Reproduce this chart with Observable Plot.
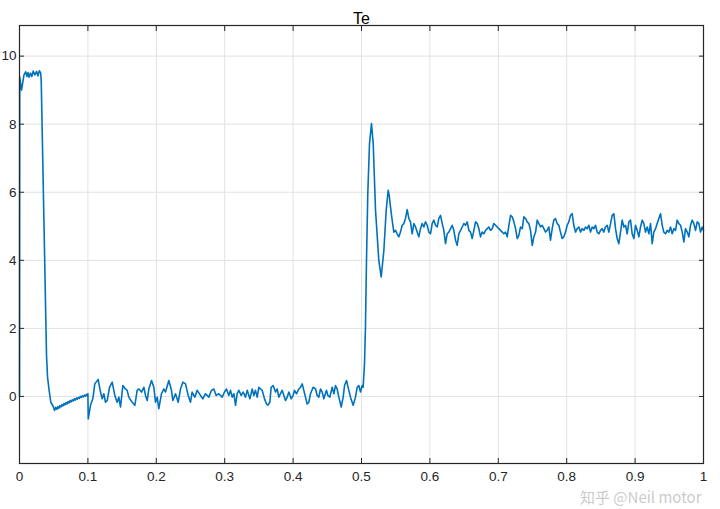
<!DOCTYPE html>
<html><head><meta charset="utf-8">
<script src="https://cdn.jsdelivr.net/npm/d3@7"></script>
<script src="https://cdn.jsdelivr.net/npm/@observablehq/plot@0.6"></script>
<style>html,body{margin:0;padding:0;background:#fff;} #chart svg{display:block;}</style>
</head><body><div id="chart"></div>
<script>
const title = "Te";
const watermark = "知乎 @Neil motor";
const xTicks = [0, 0.1, 0.2, 0.3, 0.4, 0.5, 0.6, 0.7, 0.8, 0.9, 1];
const yTicks = [0, 2, 4, 6, 8, 10];

// start-up, saturated torque, fall and slow recovery [t (s), Te]
const segStart = [[0,0],[0.0003,9.39],[0.003,9.0],[0.0065,9.44],[0.009,9.54],[0.011,9.40],[0.0125,9.52],[0.014,9.38],[0.016,9.5],[0.018,9.4],
[0.020,9.56],[0.0225,9.45],[0.025,9.55],[0.027,9.42],[0.029,9.57],[0.031,9.5],[0.0318,9.25],[0.0395,1.2],[0.041,0.57],[0.0433,0.18],
[0.0458,-0.17],[0.0497,-0.31],[0.0512,-0.41],[0.053,-0.32],[0.0545,-0.38],[0.056,-0.30],[0.0575,-0.35],[0.059,-0.27],[0.0605,-0.31],[0.062,-0.24],
[0.0635,-0.28],[0.065,-0.21],[0.0665,-0.25],[0.068,-0.18],[0.0695,-0.22],[0.071,-0.15],[0.0725,-0.19],[0.074,-0.12],[0.0755,-0.16],[0.077,-0.10],
[0.0785,-0.13],[0.080,-0.07],[0.0815,-0.11],[0.083,-0.05],[0.0845,-0.08],[0.086,-0.03],[0.0875,-0.06],[0.089,0.00],[0.0905,-0.03],[0.092,0.02],
[0.0935,-0.01],[0.095,0.04],[0.0965,0.01],[0.098,0.06],[0.099,0.03],[0.1,0.08]];

// no-load noise, 0.1 - 0.3 s
const segNoiseA = [[0.1005,-0.66],[0.1038,-0.26],[0.1072,-0.07],[0.1101,0.37],[0.1150,0.50],[0.1184,0.13],[0.1209,-0.07],[0.1233,0.08],[0.1257,-0.17],[0.1282,-0.12],
[0.1316,0.27],[0.1355,0.42],[0.1394,0.03],[0.1428,-0.17],[0.1452,-0.02],[0.1477,-0.31],[0.1511,0.32],[0.1550,0.22],[0.1574,0.18],[0.1598,-0.02],
[0.1647,-0.17],[0.1686,-0.26],[0.1720,0.18],[0.1745,0.22],[0.1784,0.13],[0.1818,0.27],[0.1842,0.03],[0.1867,-0.12],[0.1891,0.22],[0.1930,0.47],
[0.1964,0.27],[0.1988,-0.17],[0.2013,-0.02],[0.2037,-0.36],[0.2076,0.08],[0.2110,0.22],[0.2135,0.13],[0.2183,0.47],[0.2222,0.18],[0.2242,-0.12],
[0.2281,0.08],[0.2320,-0.17],[0.2354,0.22],[0.2388,0.42],[0.2427,0.37],[0.2466,0.03],[0.2500,-0.17],[0.2524,0.13],[0.2563,-0.02],[0.2598,0.18],
[0.2646,0.03],[0.2680,-0.07],[0.2719,0.08],[0.2768,-0.02],[0.2807,0.18],[0.2841,0.22],[0.2875,0.03],[0.2914,0.08]];

// no-load noise, 0.3 - 0.5 s
const segNoiseB = [[0.2963,-0.02],[0.2997,0.13],[0.3026,0.22],[0.3060,0.03],[0.3085,0.18],[0.3109,-0.02],[0.3134,0.08],[0.3158,-0.26],[0.3182,0.08],[0.3207,0.18],
[0.3241,0.03],[0.3270,0.13],[0.3304,-0.02],[0.3329,0.18],[0.3368,-0.07],[0.3402,0.22],[0.3426,0.03],[0.3450,0.18],[0.3475,-0.02],[0.3499,0.27],
[0.3523,0.22],[0.3548,0.18],[0.3582,-0.07],[0.3611,-0.22],[0.3631,-0.26],[0.3660,-0.17],[0.3679,0.27],[0.3709,0.32],[0.3743,0.13],[0.3767,0.22],
[0.3791,-0.02],[0.3816,0.08],[0.3840,0.18],[0.3865,0.03],[0.3889,-0.12],[0.3913,-0.02],[0.3938,0.13],[0.3972,-0.07],[0.4001,0.03],[0.4020,0.18],
[0.4050,0.08],[0.4084,0.22],[0.4108,0.27],[0.4133,0.37],[0.4157,0.18],[0.4181,-0.02],[0.4206,-0.22],[0.4230,-0.17],[0.4254,0.08],[0.4293,0.27],
[0.4328,0.22],[0.4352,0.03],[0.4376,-0.02],[0.4401,0.22],[0.4425,0.13],[0.4449,-0.07],[0.4488,0.18],[0.4508,0.03],[0.4537,-0.02],[0.4571,0.27],
[0.4596,0.08],[0.4620,0.32],[0.4644,0.22],[0.4669,-0.02],[0.4703,-0.31],[0.4732,-0.02],[0.4752,0.32],[0.4781,0.47],[0.4815,0.18],[0.4839,-0.02],
[0.4878,-0.26],[0.4912,-0.02],[0.4937,0.27],[0.4961,0.32],[0.4985,0.13],[0.5010,0.32]];

// load step transient
const segStep = [[0.5024,0.27],[0.5044,0.96],[0.5058,2.04],[0.5073,4.0],[0.5092,5.96],[0.5117,7.43],[0.5146,8.02],[0.5171,7.43],[0.5205,5.47],[0.5253,4.0],
[0.5288,3.51],[0.5327,4.29],[0.5361,5.47],[0.5390,6.06],[0.5405,5.91]];

// loaded noise, 0.54 - 0.77 s
const segLoadA = [[0.5424,5.57],[0.5448,5.18],[0.5473,4.83],[0.5497,4.88],[0.5521,4.78],[0.5546,4.69],[0.5570,4.83],[0.5595,5.03],[0.5619,5.08],[0.5643,5.23],
[0.5668,5.49],[0.5692,5.23],[0.5716,5.13],[0.5741,4.78],[0.5765,5.08],[0.5790,4.98],[0.5814,4.83],[0.5838,4.69],[0.5863,4.93],[0.5887,5.08],
[0.5911,4.98],[0.5936,5.13],[0.5960,5.03],[0.5985,4.83],[0.6009,4.78],[0.6033,5.08],[0.6058,5.18],[0.6082,5.03],[0.6107,4.98],[0.6131,5.23],
[0.6155,5.32],[0.6180,5.08],[0.6204,4.88],[0.6228,4.49],[0.6253,4.78],[0.6277,4.83],[0.6302,4.93],[0.6326,5.03],[0.6350,4.88],[0.6375,4.59],
[0.6399,4.44],[0.6423,4.78],[0.6448,4.88],[0.6472,4.98],[0.6497,5.08],[0.6521,5.03],[0.6545,5.13],[0.6570,4.88],[0.6594,4.83],[0.6618,4.64],
[0.6643,4.88],[0.6667,5.13],[0.6692,5.08],[0.6716,4.93],[0.6740,4.69],[0.6765,4.83],[0.6789,4.78],[0.6813,4.88],[0.6838,4.93],[0.6862,4.98],
[0.6886,4.88],[0.6911,4.93],[0.6935,5.08],[0.6960,5.03],[0.6984,4.98],[0.7008,4.93],[0.7033,4.88],[0.7057,4.83],[0.7081,4.78],[0.7106,4.83],
[0.7130,4.69],[0.7155,5.03],[0.7179,5.32],[0.7203,5.28],[0.7228,5.13],[0.7252,4.93],[0.7277,4.64],[0.7301,4.74],[0.7325,4.98],[0.7350,4.93],
[0.7374,5.28],[0.7398,5.23],[0.7423,5.13],[0.7447,5.08],[0.7471,4.88],[0.7496,4.44],[0.7520,4.69],[0.7545,4.83],[0.7569,5.18],[0.7593,5.08],
[0.7618,4.98],[0.7642,5.03],[0.7666,4.93],[0.7691,4.83]];

// loaded noise, 0.77 - 1.0 s
const segLoadB = [[0.7714,4.88],[0.7739,4.98],[0.7763,4.59],[0.7788,4.93],[0.7812,5.18],[0.7836,5.23],[0.7861,5.08],[0.7885,5.03],[0.7909,4.83],[0.7934,4.64],
[0.7958,4.69],[0.7983,4.83],[0.8007,5.03],[0.8031,5.13],[0.8056,5.32],[0.8080,5.37],[0.8104,5.03],[0.8129,4.83],[0.8153,4.93],[0.8178,4.98],
[0.8202,4.83],[0.8226,4.93],[0.8251,4.88],[0.8275,4.98],[0.8299,4.93],[0.8324,5.03],[0.8348,4.83],[0.8373,4.98],[0.8397,4.93],[0.8421,5.03],
[0.8446,4.83],[0.8470,4.78],[0.8494,4.88],[0.8519,4.93],[0.8543,4.83],[0.8567,4.98],[0.8592,5.03],[0.8616,4.83],[0.8641,5.08],[0.8665,5.32],
[0.8689,5.37],[0.8714,4.93],[0.8738,4.64],[0.8762,4.49],[0.8787,4.83],[0.8811,5.18],[0.8836,4.98],[0.8860,5.03],[0.8884,4.78],[0.8909,5.13],
[0.8933,5.18],[0.8957,4.78],[0.8982,4.64],[0.9006,5.03],[0.9031,4.88],[0.9055,4.69],[0.9079,4.98],[0.9104,5.18],[0.9128,5.08],[0.9152,4.83],
[0.9177,4.98],[0.9201,4.78],[0.9226,5.08],[0.9250,4.49],[0.9274,4.83],[0.9299,4.93],[0.9323,5.08],[0.9347,5.23],[0.9372,5.37],[0.9396,5.03],
[0.9420,4.83],[0.9445,4.78],[0.9469,4.88],[0.9494,4.83],[0.9518,4.98],[0.9542,4.78],[0.9567,4.93],[0.9591,4.88],[0.9615,5.18],[0.9640,5.08],
[0.9664,5.03],[0.9689,4.83],[0.9713,4.54],[0.9737,4.93],[0.9762,4.83],[0.9786,4.69],[0.9810,5.03],[0.9835,5.18],[0.9859,5.08],[0.9884,4.88],
[0.9908,5.13],[0.9932,5.08],[0.9957,4.83],[0.9981,4.98],[1.0,4.88]];

const data = [...segStart, ...segNoiseA, ...segNoiseB, ...segStep, ...segLoadA, ...segLoadB]
  .map(([t, te]) => ({t, te}));

const axisColor = "#262626";
const gridColor = "#e2e2e2";

const chart = Plot.plot({
  width: 720,
  height: 509,
  marginLeft: 19,
  marginRight: 17,
  marginTop: 25,
  marginBottom: 46,
  style: {fontFamily: "'Liberation Sans', Arial, sans-serif", fontSize: "13px", color: axisColor, background: "#ffffff"},
  x: {domain: [0, 1]},
  y: {domain: [-1.97, 10.9]},
  marks: [
    Plot.gridX(xTicks, {stroke: gridColor, strokeOpacity: 1}),
    Plot.gridY(yTicks, {stroke: gridColor, strokeOpacity: 1}),
    Plot.line(data, {x: "t", y: "te", stroke: "#0072BD", strokeWidth: 1.6, strokeLinejoin: "round"}),
    Plot.frame({stroke: axisColor, strokeWidth: 1.2}),
    Plot.axisX(xTicks, {anchor: "bottom", tickSize: 5, dy: -5, fill: "none", label: null, stroke: axisColor}),
    Plot.axisX(xTicks, {anchor: "top", tickSize: 5, dy: 5, fill: "none", label: null, stroke: axisColor}),
    Plot.axisY(yTicks, {anchor: "left", tickSize: 5, dx: 5, fill: "none", label: null, stroke: axisColor}),
    Plot.axisY(yTicks, {anchor: "right", tickSize: 5, dx: -5, fill: "none", label: null, stroke: axisColor}),
    Plot.axisX(xTicks, {anchor: "bottom", tickSize: 0, tickPadding: 8, tickFormat: d => String(d), label: null, fill: axisColor, fontSize: 13.5}),
    Plot.axisY(yTicks, {anchor: "left", tickSize: 0, tickPadding: 3, tickFormat: d => String(d), label: null, fill: axisColor, fontSize: 13.5}),
    Plot.text([title], {frameAnchor: "top", dy: -13, fontSize: 16, fill: "#000000"}),
    Plot.text([watermark], {frameAnchor: "bottom-right", textAnchor: "end", dx: -2, dy: 39, fontSize: 15,
      fontFamily: "'Noto Sans CJK SC', 'Liberation Sans', sans-serif", fill: "#b8b8b8", fillOpacity: 0.75})
  ]
});
document.getElementById("chart").appendChild(chart);
</script>
</body></html>
